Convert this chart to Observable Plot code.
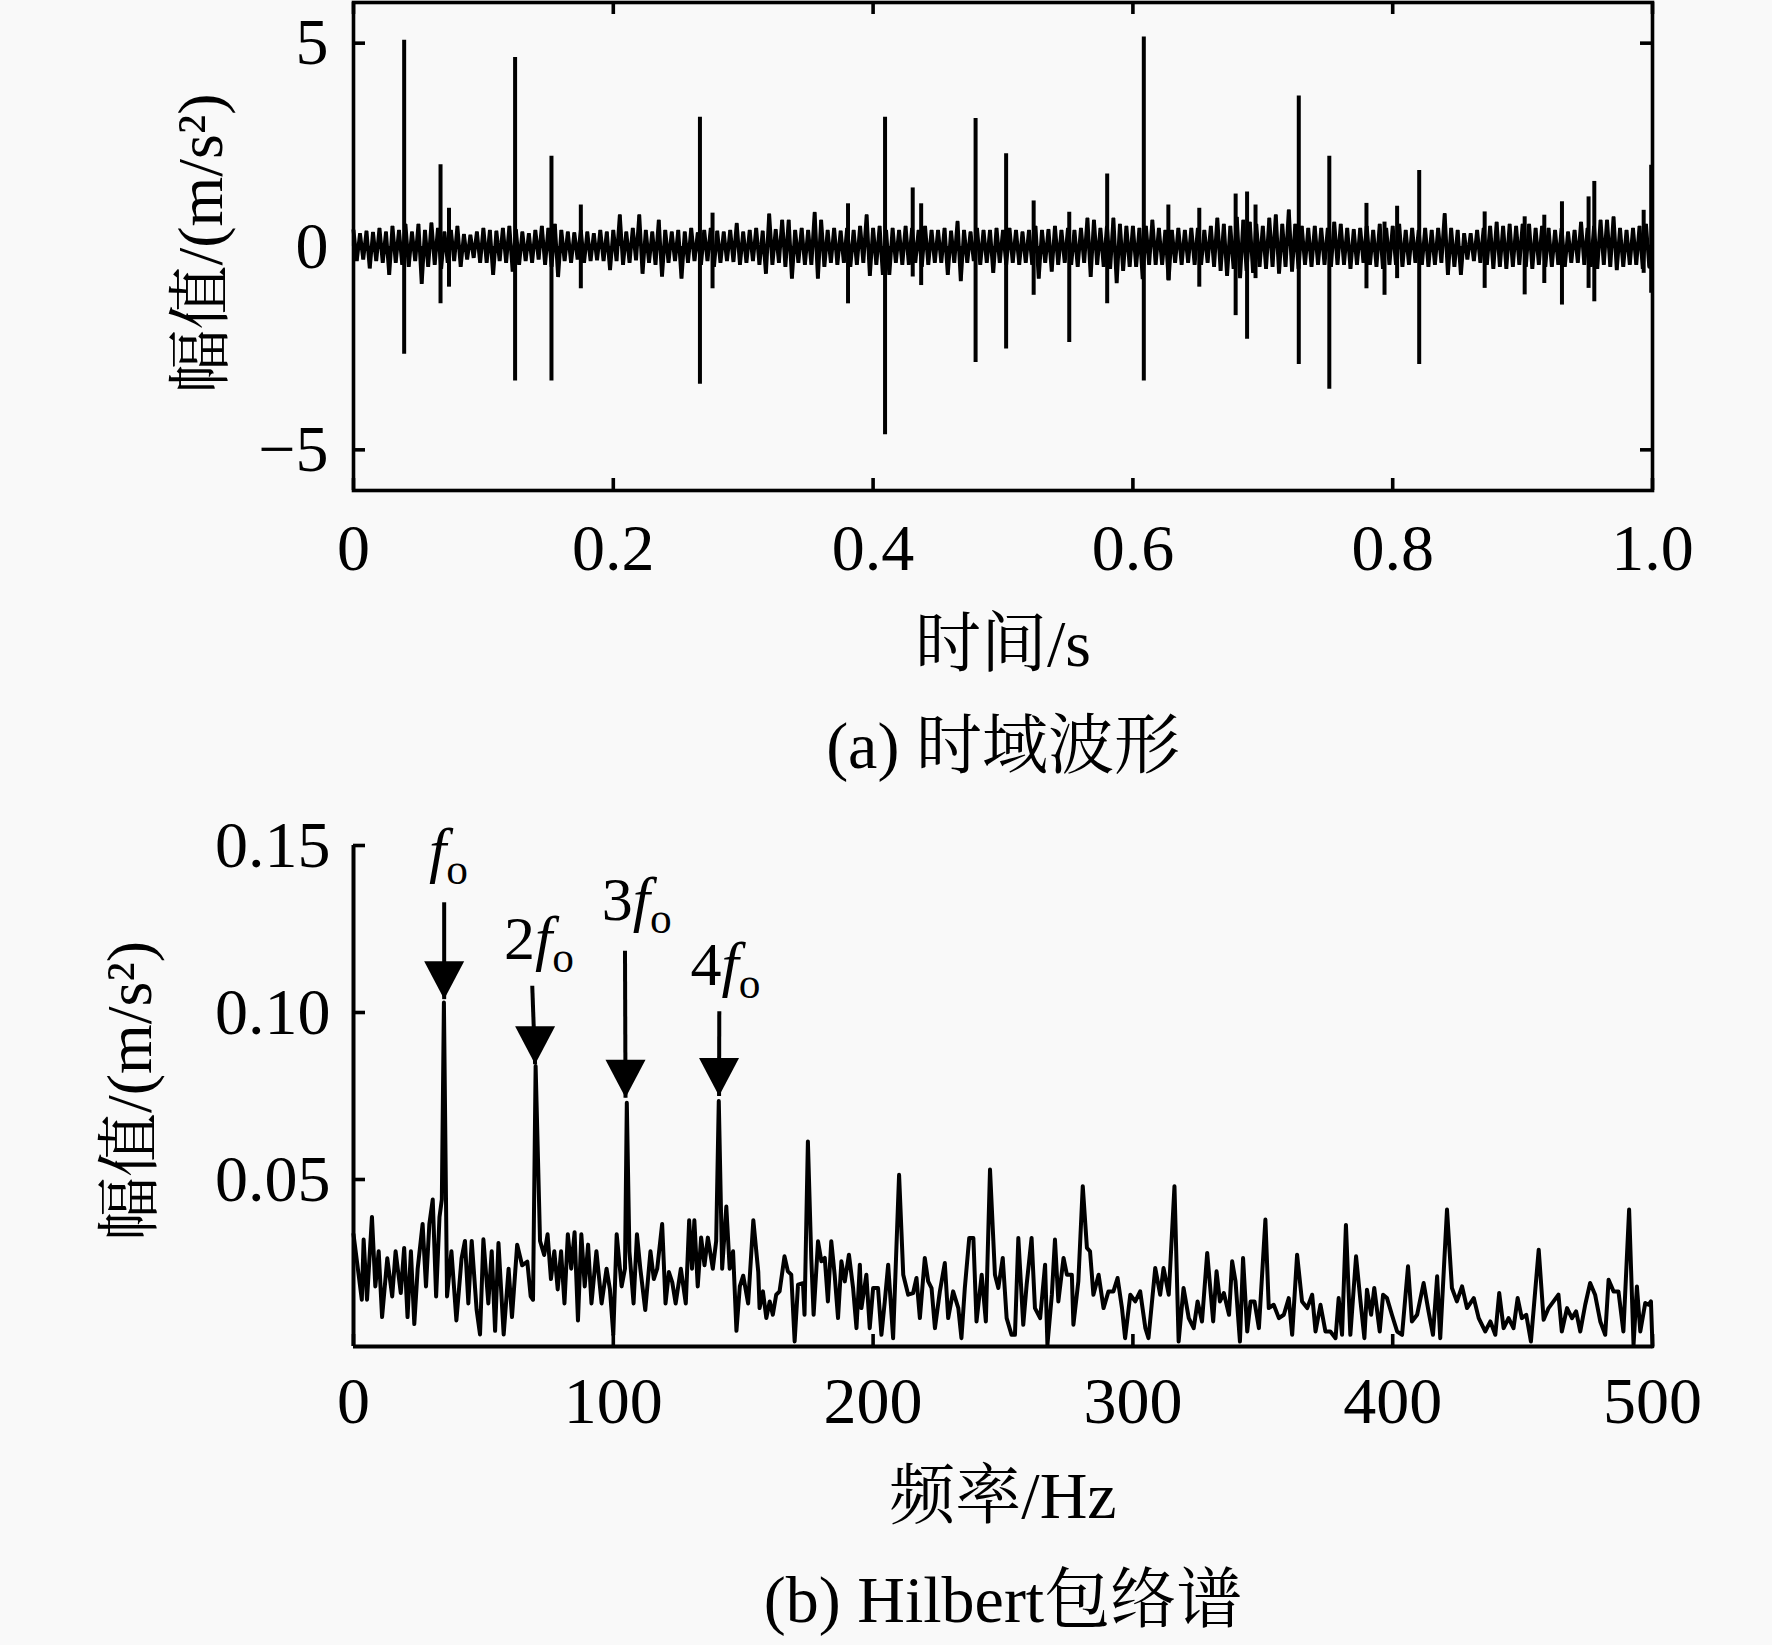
<!DOCTYPE html>
<html><head><meta charset="utf-8">
<script src="https://cdn.jsdelivr.net/npm/d3@7"></script>
<script src="https://cdn.jsdelivr.net/npm/@observablehq/plot@0.6"></script>
<style>
html,body{margin:0;padding:0;background:#f9f9f9;}
#chart{width:1772px;height:1645px;position:relative;overflow:hidden;}
#chart svg{display:block;}
</style></head><body><div id="chart"></div>
<script>
// ---------- (a) time-domain waveform ----------
const binSec = 0.005; // width of each envelope bin (s)
const bandHi = [
0.40,0.32,0.38,0.35,0.45,0.36,0.50,0.40,0.55,0.36,
0.55,0.40,0.58,0.45,0.36,0.40,0.50,0.30,0.28,0.36,
0.45,0.40,0.38,0.45,0.50,0.42,0.36,0.32,0.40,0.50,
0.45,0.55,0.40,0.36,0.34,0.40,0.36,0.32,0.40,0.36,
0.40,0.78,0.36,0.45,0.78,0.40,0.36,0.65,0.40,0.36,
0.40,0.36,0.45,0.34,0.40,0.45,0.38,0.36,0.40,0.57,
0.36,0.40,0.45,0.38,0.80,0.42,0.65,0.65,0.40,0.45,
0.40,0.84,0.65,0.40,0.45,0.38,0.45,0.40,0.50,0.78,
0.45,0.50,0.40,0.45,0.40,0.50,0.45,0.40,0.50,0.40,
0.40,0.45,0.38,0.62,0.40,0.36,0.45,0.40,0.40,0.45,
0.40,0.45,0.40,0.36,0.40,0.50,0.40,0.42,0.50,0.40,
0.45,0.40,0.45,0.70,0.65,0.45,0.50,0.70,0.55,0.50,
0.50,0.45,0.50,0.65,0.45,0.40,0.40,0.45,0.40,0.45,
0.45,0.40,0.50,0.70,0.55,0.50,0.72,0.65,0.60,0.55,
0.50,0.70,0.78,0.55,0.90,0.55,0.50,0.45,0.50,0.45,
0.45,0.60,0.55,0.45,0.42,0.45,0.50,0.40,0.55,0.45,
0.50,0.55,0.40,0.45,0.40,0.45,0.40,0.45,0.81,0.45,
0.40,0.32,0.32,0.40,0.45,0.50,0.60,0.50,0.55,0.50,
0.55,0.55,0.45,0.50,0.45,0.40,0.45,0.36,0.40,0.60,
0.45,0.50,0.65,0.65,0.73,0.45,0.40,0.45,0.50,0.55];
const bandLo = [
-0.36,-0.32,-0.54,-0.36,-0.40,-0.70,-0.40,-0.45,-0.50,-0.36,
-0.92,-0.50,-0.45,-0.55,-0.40,-0.36,-0.50,-0.32,-0.28,-0.40,
-0.40,-0.70,-0.36,-0.40,-0.62,-0.45,-0.36,-0.40,-0.32,-0.45,
-0.50,-0.75,-0.36,-0.40,-0.32,-0.40,-0.36,-0.34,-0.36,-0.58,
-0.36,-0.45,-0.40,-0.34,-0.67,-0.40,-0.45,-0.74,-0.40,-0.36,
-0.79,-0.40,-0.36,-0.45,-0.36,-0.50,-0.40,-0.36,-0.38,-0.45,
-0.40,-0.36,-0.45,-0.67,-0.45,-0.40,-0.50,-0.79,-0.40,-0.45,
-0.45,-0.79,-0.50,-0.40,-0.45,-0.40,-0.50,-0.45,-0.40,-0.72,
-0.45,-0.70,-0.70,-0.40,-0.45,-0.45,-0.40,-0.50,-0.45,-0.40,
-0.40,-0.70,-0.40,-0.85,-0.40,-0.36,-0.45,-0.40,-0.65,-0.40,
-0.45,-0.40,-0.45,-0.40,-0.45,-0.79,-0.40,-0.62,-0.45,-0.40,
-0.45,-0.50,-0.40,-0.75,-0.45,-0.50,-0.55,-0.90,-0.60,-0.50,
-0.50,-0.80,-0.45,-0.45,-0.45,-0.83,-0.40,-0.45,-0.40,-0.45,
-0.45,-0.40,-0.50,-0.60,-0.72,-0.55,-0.78,-0.60,-0.65,-0.50,
-0.55,-0.50,-0.67,-0.50,-0.62,-0.55,-0.45,-0.50,-0.45,-0.45,
-0.50,-0.45,-0.45,-0.55,-0.45,-0.40,-0.45,-0.50,-0.55,-0.45,
-0.45,-0.50,-0.45,-0.40,-0.45,-0.50,-0.45,-0.40,-0.70,-0.50,
-0.70,-0.32,-0.36,-0.40,-0.45,-0.55,-0.50,-0.55,-0.50,-0.45,
-0.50,-0.55,-0.45,-0.50,-0.50,-0.45,-0.50,-0.40,-0.40,-0.45,
-0.50,-0.55,-0.45,-0.50,-0.58,-0.50,-0.45,-0.45,-0.55,-0.50];
const spikeT  = [0.039,0.067,0.0735,0.1244,0.1524,0.175,0.2667,0.2764,0.3807,0.4092,0.4305,0.437,0.4789,0.5024,0.5236,0.551,0.5802,0.6084,0.6273,0.6511,0.6791,0.6879,0.6944,0.7277,0.7512,0.7798,0.7937,0.8034,0.8204,0.8708,0.9016,0.9167,0.9303,0.9508,0.9552,0.9932,0.999];
const spikeHi = [5.07,2.01,0.94,4.65,2.22,1.02,3.18,0.82,1.05,3.18,1.44,1.05,3.15,2.28,1.12,0.84,1.78,5.15,1.02,0.94,1.29,1.34,1.02,3.70,2.22,1.06,0.60,0.99,1.87,0.85,0.73,0.77,1.10,1.22,1.60,0.89,2.00];
const spikeLo = [-2.65,-1.41,-1.00,-3.31,-3.31,-1.04,-3.39,-1.04,-1.41,-4.63,-0.75,-0.96,-2.85,-2.52,-1.20,-2.36,-1.41,-3.31,-0.83,-1.00,-1.70,-2.28,-0.79,-2.90,-3.51,-1.04,-1.20,-0.79,-2.90,-1.03,-1.19,-0.91,-1.44,-1.03,-1.36,-0.66,-1.15];
const timeTicks = [0, 0.2, 0.4, 0.6, 0.8, 1.0];
const ampTicksA = [-5, 0, 5];

// ---------- (b) Hilbert envelope spectrum ----------
const specHz = [
0,3.2,3.9,5.2,7.1,8.4,9.7,11.0,13.0,14.9,16.2,18.2,19.5,20.8,22.1,23.4,24.7,26.6,27.9,29.2,30.5,31.8,33.1,34.0,34.8,36.0,37.7,39.6,41.6,42.9,44.2,45.5,47.4,48.7,50.0,51.9,53.2,54.5,55.8,57.8,59.7,61.0,63.0,64.9,66.9,68.2,69.1,70.1,71.0,71.8,73.4,74.7,76.0,77.3,78.6,79.9,81.2,82.5,83.8,85.1,86.4,87.7,89.0,90.3,91.6,93.5,95.5,97.4,98.7,100.0,101.3,103.2,104.5,105.2,106.2,107.8,109.1,110.4,112.3,114.3,115.6,116.9,118.8,120.1,121.4,122.7,124.0,126.0,127.9,129.2,130.3,131.2,132.5,133.8,135.1,136.4,138.3,139.6,140.6,141.9,143.5,144.8,146.1,147.4,148.7,150.0,151.9,153.9,155.8,
156.3,157.6,158.9,160.2,161.4,162.7,164.0,165.9,167.2,168.5,169.8,171.1,173.0,173.6,174.9,176.2,177.1,178.8,180.1,181.4,182.6,183.9,185.2,186.5,187.8,189.1,190.7,192.3,193.6,194.9,195.5,197.4,198.7,200.0,201.9,203.2,204.5,205.8,207.7,210.0,211.6,213.5,215.4,216.7,218.0,219.9,221.2,222.5,223.8,225.7,227.6,228.9,230.8,232.8,234.0,235.3,237.0,238.6,239.8,241.8,243.4,245.0,246.9,248.2,249.9,251.4,253.3,254.6,255.9,257.8,259.1,261.0,262.3,264.3,266.2,267.1,268.8,270.0,271.3,273.3,274.6,276.5,277.1,279.0,280.7,282.3,283.5,284.8,286.8,288.7,290.6,292.5,294.1,295.8,297.0,299.0,300.9,302.8,304.8,306.0,308.6,310.5,311.8,313.8,316.0,317.6,319.5,321.5,323.4,324.9,326.6,328.6,
330.9,332.2,333.5,335.0,337.0,338.2,339.5,341.2,342.4,344.0,345.3,346.8,348.5,351.0,352.3,354.2,356.2,358.1,360.0,361.3,363.2,365.1,367.1,369.0,370.3,372.2,374.1,376.0,378.0,379.2,380.5,382.0,383.7,385.9,387.6,389.1,390.1,391.7,392.9,395.0,396.3,397.8,399.7,401.7,403.6,405.9,407.4,409.4,411.9,413.8,415.5,417.1,418.3,420.9,422.8,424.7,426.7,428.6,431.2,433.1,435.6,437.6,439.5,441.0,442.7,444.6,446.5,448.1,449.7,451.4,453.2,456.2,458.1,460.0,461.9,463.8,465.1,467.1,469.0,470.6,472.2,474.1,476.0,477.9,479.9,481.8,483.1,485.0,486.9,488.8,491.0,492.7,494.0,495.3,497.2,498.5,499.4,500.0];
const specAmp = [
0.0336,0.014,0.032,0.014,0.0388,0.018,0.0285,0.0088,0.0264,0.015,0.0285,0.016,0.0295,0.0088,0.0285,0.0067,0.0233,0.0367,0.018,0.0367,0.044,0.015,0.0388,0.044,0.103,0.015,0.0285,0.0078,0.0264,0.0316,0.0129,0.0316,0.0109,0.0036,0.0321,0.0129,0.0285,0.0047,0.031,0.0036,0.0233,0.0088,0.0305,0.0243,0.0254,0.015,0.014,0.084,0.0564,0.0316,0.0274,0.0336,0.0202,0.0285,0.0171,0.0285,0.0129,0.0336,0.0233,0.0342,0.0078,0.0336,0.018,0.0305,0.0129,0.0285,0.0129,0.0233,0.0171,0.0036,0.0336,0.018,0.0233,0.073,0.0285,0.0129,0.0336,0.0233,0.0109,0.0285,0.0202,0.0233,0.0367,0.0129,0.0223,0.0192,0.0129,0.0233,0.0129,0.0378,0.0233,0.0378,0.018,0.0326,0.0243,0.0326,0.0233,0.0316,0.0735,0.0233,0.0419,0.0233,0.0285,0.0047,0.018,0.0212,0.0129,0.0378,0.0223,
0.0115,0.0165,0.0085,0.0135,0.0095,0.0155,0.0165,0.027,0.0225,0.0215,0.0015,0.0185,0.019,0.0095,0.0614,0.0265,0.0095,0.0315,0.0255,0.0265,0.0135,0.0315,0.0215,0.0085,0.0255,0.0195,0.0275,0.0175,0.0055,0.0245,0.0115,0.0215,0.0055,0.0175,0.0175,0.0035,0.0135,0.0245,0.0025,0.0514,0.0215,0.0155,0.016,0.0205,0.0085,0.0265,0.0195,0.0175,0.0055,0.0165,0.025,0.0085,0.0165,0.0115,0.0025,0.0175,0.0325,0.0325,0.0075,0.0215,0.0075,0.053,0.0215,0.0175,0.0265,0.0085,0.0035,0.0035,0.0325,0.0065,0.0185,0.0325,0.0115,0.0085,0.0245,0.0005,0.0155,0.032,0.0135,0.0265,0.0215,0.0215,0.0065,0.0195,0.048,0.0295,0.0285,0.0155,0.0215,0.0115,0.0165,0.0165,0.0205,0.0115,0.0025,0.0155,0.0135,0.0165,0.0055,0.0025,0.0235,0.0155,0.0235,0.0155,0.048,0.0015,0.0175,0.0085,0.0055,0.0135,0.0075,0.028,
0.0075,0.0225,0.0135,0.016,0.0095,0.0255,0.0195,0.0015,0.0265,0.0045,0.0135,0.0135,0.0055,0.038,0.0115,0.0125,0.0085,0.0095,0.0145,0.0035,0.0275,0.0135,0.0115,0.0155,0.0045,0.0125,0.0045,0.0045,0.0025,0.0145,0.0035,0.0364,0.0035,0.027,0.0135,0.0025,0.017,0.0095,0.0175,0.0045,0.0155,0.0145,0.0095,0.0045,0.0035,0.024,0.0075,0.0095,0.019,0.0105,0.0035,0.021,0.0025,0.041,0.0175,0.0135,0.018,0.0115,0.0145,0.0085,0.0045,0.0075,0.0035,0.016,0.0055,0.0085,0.0055,0.0145,0.0085,0.0095,0.0015,0.029,0.008,0.0115,0.0135,0.0155,0.0045,0.0115,0.0085,0.0105,0.0045,0.0125,0.019,0.0155,0.0075,0.0035,0.02,0.0165,0.0165,0.0045,0.041,0.0005,0.018,0.0045,0.013,0.0125,0.0135,0.0];
const freqTicks = [0, 100, 200, 300, 400, 500];
const ampTicksB = [0.05, 0.10, 0.15];
// harmonic annotations
const harmLabel    = ["f_o", "2f_o", "3f_o", "4f_o"];
const harmLabelHz  = [36.6, 71.4, 109.0, 143.2];
const harmLabelAmp = [0.1423, 0.1159, 0.1278, 0.1082];
const arrowTopHz   = [34.9, 68.8, 104.5, 140.8];
const arrowTipHz   = [34.9, 69.9, 104.7, 140.7];
const arrowTopAmp  = [0.133, 0.108, 0.1185, 0.1004];
const arrowTipAmp  = [0.104, 0.0845, 0.0745, 0.0750];

// texts
const yTitle   = "幅值/(m/s²)";
const xTitleA  = "时间/s";
const captionA = "(a) 时域波形";
const xTitleB  = "频率/Hz";
const captionB = "(b) Hilbert包络谱";

// ---------- layout ----------
const FONT = '"Liberation Serif","Times New Roman","Noto Serif CJK SC","Noto Sans CJK SC",serif';
const W = 1772, L = 353, R = 120;
const plotW = W - L - R;
const tickLen = 12, lw = 3.6;
const baseStyle = {fontFamily: FONT, fontSize: "66px", color: "black", background: "transparent", overflow: "visible"};

const wave = [];
bandHi.forEach((h, i) => {
  wave.push({t: i * binSec, v: h});
  wave.push({t: i * binSec + binSec / 2, v: bandLo[i]});
});
const spikes = spikeT.map((t, i) => ({t, hi: spikeHi[i], lo: spikeLo[i]}));

const topH = 800, topMT = 2, topMB = 310;
const topPlotH = topH - topMT - topMB;
const fmtTime = d => d === 0 ? "0" : d.toFixed(1);
const fmtAmpA = d => d < 0 ? "\u2212" + Math.abs(d) : String(d);

const topPlot = Plot.plot({
  width: W, height: topH, marginLeft: L, marginRight: R, marginTop: topMT, marginBottom: topMB,
  style: baseStyle,
  x: {domain: [0, 1], label: null},
  y: {domain: [-6, 6], label: null},
  marks: [
    Plot.line(wave, {x: "t", y: "v", stroke: "black", strokeWidth: 3.8, strokeLinejoin: "miter"}),
    Plot.ruleX(wave, {x: "t", y1: 0, y2: "v", stroke: "black", strokeWidth: 3.2}),
    Plot.ruleX(spikes, {x: "t", y1: "lo", y2: "hi", stroke: "black", strokeWidth: 4}),
    Plot.frame({stroke: "black", strokeWidth: lw}),
    Plot.ruleX(timeTicks, {x: d => d, insetTop: topPlotH - tickLen, strokeWidth: lw}),
    Plot.ruleX(timeTicks, {x: d => d, insetBottom: topPlotH - tickLen, strokeWidth: lw}),
    Plot.ruleY(ampTicksA, {y: d => d, insetRight: plotW - tickLen, strokeWidth: lw}),
    Plot.ruleY(ampTicksA, {y: d => d, insetLeft: plotW - tickLen, strokeWidth: lw}),
    Plot.axisX({ticks: timeTicks, tickSize: 0, tickPadding: 33, tickFormat: fmtTime, fontSize: 66, label: null}),
    Plot.axisY({ticks: ampTicksA, tickSize: 0, tickPadding: 25, tickFormat: fmtAmpA, fontSize: 66, label: null}),
    Plot.text([yTitle], {frameAnchor: "left", text: d => d, rotate: -90, dx: 201 - L, dy: -3, textAnchor: "middle", lineAnchor: "middle", fontSize: 64}),
    Plot.text([xTitleA], {frameAnchor: "bottom", text: d => d, dy: 154, textAnchor: "middle", lineAnchor: "middle", fontSize: 66}),
    Plot.text([captionA], {frameAnchor: "bottom", text: d => d, dy: 256, textAnchor: "middle", lineAnchor: "middle", fontSize: 66})
  ]
});

const spec = specHz.map((f, i) => ({f, a: specAmp[i]}));
const arrows = harmLabel.map((s, i) => ({
  label: s, lx: harmLabelHz[i], ly: harmLabelAmp[i],
  x1: arrowTopHz[i], y1: arrowTopAmp[i], x2: arrowTipHz[i], y2: arrowTipAmp[i]
}));
const arrowHead = {
  draw(ctx, size) {
    const r = Math.sqrt(size / Math.PI);
    ctx.moveTo(0, 0); ctx.lineTo(-r, -1.9 * r); ctx.lineTo(r, -1.9 * r); ctx.closePath();
  }
};

const botH = 845, botMT = 45, botMB = 299;
const botPlotH = botH - botMT - botMB;
const botPlot = Plot.plot({
  width: W, height: botH, marginLeft: L, marginRight: R, marginTop: botMT, marginBottom: botMB,
  style: baseStyle,
  x: {domain: [0, 500], label: null},
  y: {domain: [0, 0.15], label: null},
  marks: [
    Plot.line(spec, {x: "f", y: "a", stroke: "black", strokeWidth: 4, strokeLinejoin: "round"}),
    Plot.ruleX([0], {stroke: "black", strokeWidth: 4}),
    Plot.ruleY([0], {stroke: "black", strokeWidth: 4}),
    Plot.ruleX(freqTicks, {x: d => d, insetTop: botPlotH - tickLen, strokeWidth: lw}),
    Plot.ruleY(ampTicksB, {y: d => d, insetRight: plotW - tickLen, strokeWidth: lw}),
    Plot.link(arrows, {x1: "x1", y1: "y1", x2: "x2", y2: "y2", stroke: "black", strokeWidth: 4}),
    Plot.dot(arrows, {x: "x2", y: "y2", r: 20, symbol: arrowHead, fill: "black", stroke: "none"}),
    Plot.text(arrows, {x: "lx", y: "ly", text: "label", lineAnchor: "bottom", textAnchor: "middle", fontSize: 62}),
    Plot.axisX({ticks: freqTicks, tickSize: 0, tickPadding: 30, tickFormat: d => String(d), fontSize: 66, label: null}),
    Plot.axisY({ticks: ampTicksB, tickSize: 0, tickPadding: 23, tickFormat: d => d.toFixed(2), fontSize: 66, label: null}),
    Plot.text([yTitle], {frameAnchor: "left", text: d => d, rotate: -90, dx: 130 - L, dy: -5, textAnchor: "middle", lineAnchor: "middle", fontSize: 64}),
    Plot.text([xTitleB], {frameAnchor: "bottom", text: d => d, dy: 150, textAnchor: "middle", lineAnchor: "middle", fontSize: 66}),
    Plot.text([captionB], {frameAnchor: "bottom", text: d => d, dy: 254, textAnchor: "middle", lineAnchor: "middle", fontSize: 66})
  ]
});

// style harmonic labels: numeral + italic f + subscript o
d3.select(botPlot).selectAll("text").each(function () {
  const m = /^(\d?)f_o$/.exec(this.textContent);
  if (!m) return;
  const el = d3.select(this);
  el.text("");
  if (m[1]) el.append("tspan").text(m[1]);
  el.append("tspan").attr("font-style", "italic").text("f");
  el.append("tspan").attr("font-size", "0.7em").attr("dy", "0.3em").text("o");
});

const chart = document.getElementById("chart");
chart.appendChild(topPlot);
chart.appendChild(botPlot);
</script>
</body></html>
